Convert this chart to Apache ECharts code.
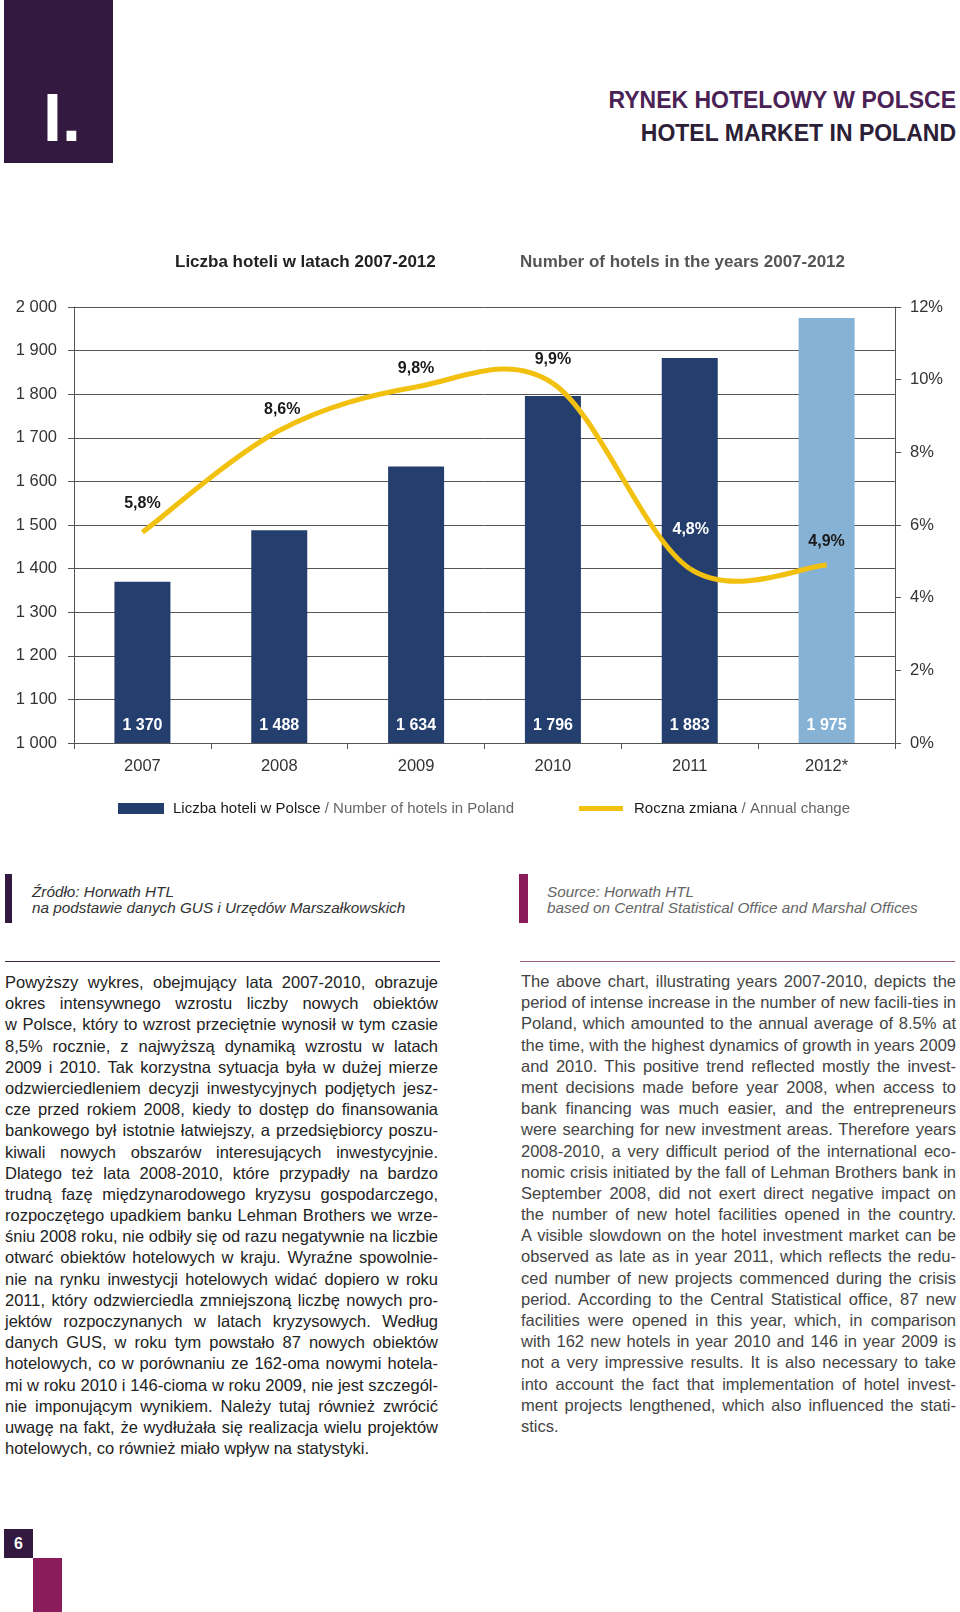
<!DOCTYPE html>
<html>
<head>
<meta charset="utf-8">
<script src="https://cdn.jsdelivr.net/npm/echarts@6/dist/echarts.min.js"></script>
<style>
html,body{margin:0;padding:0;background:#fff;}
body{width:960px;height:1612px;position:relative;overflow:hidden;font-family:"Liberation Sans",Arial,sans-serif;}
.abs{position:absolute;}
.col{position:absolute;font-size:16.5px;}
.ln{height:21.2px;line-height:21.2px;white-space:pre;}
.src{position:absolute;font-style:italic;font-size:15.3px;line-height:16px;white-space:nowrap;}
</style>
</head>
<body>
<div class="abs" style="left:4px;top:0;width:109px;height:163px;background:#33183f;"></div>
<div class="abs" style="left:43px;top:83px;font-size:68px;line-height:68px;font-weight:bold;color:#fff;">I.</div>
<div class="abs" style="right:4px;top:87px;font-size:23px;line-height:26px;font-weight:bold;color:#4a2256;white-space:nowrap;">RYNEK HOTELOWY W POLSCE</div>
<div class="abs" style="right:4px;top:120px;font-size:23px;line-height:26px;font-weight:bold;color:#2b2035;white-space:nowrap;">HOTEL MARKET IN POLAND</div>

<div id="chart" class="abs" style="left:0;top:230px;width:960px;height:600px;"></div>

<div class="abs" style="left:5px;top:874px;width:7px;height:49px;background:#33183f;"></div>
<div class="src" style="left:32px;top:884px;color:#333;">Źródło: Horwath HTL<br>na podstawie danych GUS i Urzędów Marszałkowskich</div>
<div class="abs" style="left:519px;top:874px;width:9px;height:49px;background:#8b1c5b;"></div>
<div class="src" style="left:547px;top:884px;color:#666;">Source: Horwath HTL<br>based on Central Statistical Office and Marshal Offices</div>

<div class="abs" style="left:5px;top:961px;width:435px;height:1px;background:#3a2a42;"></div>
<div class="abs" style="left:520px;top:961px;width:435px;height:1px;background:#9a5a80;"></div>

<div id="colL" class="col" style="left:5px;top:972px;width:433px;color:#222;"></div>
<div id="colR" class="col" style="left:521px;top:971px;width:435px;color:#444;"></div>

<div class="abs" style="left:4px;top:1529px;width:29px;height:29px;background:#33183f;color:#fff;font-weight:bold;font-size:16px;line-height:29px;text-align:center;">6</div>
<div class="abs" style="left:33px;top:1558px;width:29px;height:54px;background:#8b1c5b;"></div>

<script>
// ---- data ----
const years = ['2007', '2008', '2009', '2010', '2011', '2012*'];
const hotelCounts = [1370, 1488, 1634, 1796, 1883, 1975];
const annualChange = [5.8, 8.6, 9.8, 9.9, 4.8, 4.9];
const countAxisRange = [1000, 2000, 100];
const changeAxisRange = [0, 12, 2];
const projectedIndex = 5;

const seriesNames = ['Liczba hoteli w Polsce / Number of hotels in Poland', 'Roczna zmiana / Annual change'];

// ---- styles ----
const FONT = '"Liberation Sans", Arial, sans-serif';
const DARK = '#243f6e', LIGHT = '#86b2d6', YELLOW = '#f2c10f', AXIS = '#555';
const changeLabelOffsets = [[0, -29], [3, -21], [0, -18], [0, -24], [1, -39], [0, -23]];
const changeLabelColors = ['#1a1a1a', '#1a1a1a', '#1a1a1a', '#1a1a1a', '#ffffff', '#1a1a1a'];

function thousands(v) { return String(v).replace(/\B(?=(\d{3})+(?!\d))/g, ' '); }
function pct(v) { return v.toFixed(1).replace('.', ',') + '%'; }

function renderChange(params, api) {
  const i = params.dataIndex;
  const n = annualChange.length;
  const pt = k => api.coord([k, annualChange[k]]);
  const p1 = pt(i);
  const children = [];
  if (i < n - 1) {
    const p0 = pt(Math.max(i - 1, 0)), p2 = pt(i + 1), p3 = pt(Math.min(i + 2, n - 1));
    const t = 1 / 6;
    children.push({
      type: 'bezierCurve',
      shape: {
        x1: p1[0], y1: p1[1], x2: p2[0], y2: p2[1],
        cpx1: p1[0] + (p2[0] - p0[0]) * t, cpy1: p1[1] + (p2[1] - p0[1]) * t,
        cpx2: p2[0] - (p3[0] - p1[0]) * t, cpy2: p2[1] - (p3[1] - p1[1]) * t
      },
      style: { stroke: YELLOW, lineWidth: 5, fill: null, lineCap: 'butt' }
    });
  }
  children.push({
    type: 'text',
    x: p1[0] + changeLabelOffsets[i][0],
    y: p1[1] + changeLabelOffsets[i][1],
    z2: 10,
    style: {
      text: pct(annualChange[i]), fill: changeLabelColors[i],
      font: 'bold 16px ' + FONT, align: 'center', verticalAlign: 'middle'
    }
  });
  return { type: 'group', children: children };
}

const chart = echarts.init(document.getElementById('chart'), null, { renderer: 'canvas' });
chart.setOption({
  animation: false,
  textStyle: { fontFamily: FONT },
  title: [
    { text: 'Liczba hoteli w latach 2007-2012', left: 175, top: 24, padding: 0,
      textStyle: { fontSize: 17, fontWeight: 'bold', color: '#222', fontFamily: FONT } },
    { text: 'Number of hotels in the years 2007-2012', left: 520, top: 24, padding: 0,
      textStyle: { fontSize: 17, fontWeight: 'bold', color: '#555', fontFamily: FONT } }
  ],
  legend: [
    { data: [seriesNames[0]], left: 118, top: 571, padding: 0, icon: 'rect', itemWidth: 46, itemHeight: 11,
      selectedMode: false,
      formatter: name => { const p = name.split(' / '); return '{pl|' + p[0] + ' }{en|/ ' + p[1] + '}'; },
      textStyle: { rich: {
        pl: { color: '#1a1a1a', fontSize: 15, fontFamily: FONT, padding: [0, 0, 0, 4], lineHeight: 18 },
        en: { color: '#666', fontSize: 15, fontFamily: FONT, lineHeight: 18 } } } },
    { data: [seriesNames[1]], left: 579, top: 571, padding: 0, icon: 'rect', itemWidth: 44, itemHeight: 5,
      selectedMode: false,
      formatter: name => { const p = name.split(' / '); return '{pl|' + p[0] + ' }{en|/ ' + p[1] + '}'; },
      textStyle: { rich: {
        pl: { color: '#1a1a1a', fontSize: 15, fontFamily: FONT, padding: [0, 0, 0, 6], lineHeight: 18 },
        en: { color: '#666', fontSize: 15, fontFamily: FONT, lineHeight: 18 } } } }
  ],
  grid: { left: 74, right: 65, top: 77, height: 436 },
  xAxis: {
    type: 'category', data: years, boundaryGap: true,
    axisLine: { show: true, lineStyle: { color: AXIS, width: 1 } },
    axisTick: { show: true, length: 6, inside: false, lineStyle: { color: AXIS } },
    axisLabel: { margin: 15, fontSize: 16.5, color: '#333', fontFamily: FONT },
    splitLine: { show: false }
  },
  yAxis: [
    { type: 'value', position: 'left', min: countAxisRange[0], max: countAxisRange[1], interval: countAxisRange[2],
      axisLine: { show: true, lineStyle: { color: AXIS } },
      axisTick: { show: true, length: 6, lineStyle: { color: AXIS } },
      axisLabel: { margin: 17, fontSize: 16.5, color: '#333', fontFamily: FONT, formatter: v => thousands(v) },
      splitLine: { show: true, lineStyle: { color: AXIS, width: 1 } } },
    { type: 'value', position: 'right', min: changeAxisRange[0], max: changeAxisRange[1], interval: changeAxisRange[2],
      axisLine: { show: true, lineStyle: { color: AXIS } },
      axisTick: { show: true, length: 6, lineStyle: { color: AXIS } },
      axisLabel: { margin: 15, fontSize: 16.5, color: '#333', fontFamily: FONT, formatter: '{value}%' },
      splitLine: { show: false } }
  ],
  series: [
    { name: seriesNames[0], type: 'bar', yAxisIndex: 0, barWidth: 56,
      itemStyle: { color: DARK },
      data: hotelCounts.map((v, i) => i === projectedIndex ? { value: v, itemStyle: { color: LIGHT } } : v),
      label: { show: true, position: 'insideBottom', distance: 9, color: '#fff', fontWeight: 'bold', fontSize: 16,
        fontFamily: FONT, formatter: p => thousands(p.value) } },
    { name: seriesNames[1], type: 'custom', yAxisIndex: 1, xAxisIndex: 0,
      itemStyle: { color: YELLOW },
      data: annualChange.map((v, i) => [i, v]),
      encode: { x: 0, y: 1 },
      renderItem: renderChange, z: 3 }
  ]
});

// ---- body text ----
const leftLines = [
'Powyższy wykres, obejmujący lata 2007-2010, obrazuje',
'okres intensywnego wzrostu liczby nowych obiektów',
'w Polsce, który to wzrost przeciętnie wynosił w tym czasie',
'8,5% rocznie, z najwyższą dynamiką wzrostu w latach',
'2009 i 2010. Tak korzystna sytuacja była w dużej mierze',
'odzwierciedleniem decyzji inwestycyjnych podjętych jesz-',
'cze przed rokiem 2008, kiedy to dostęp do finansowania',
'bankowego był istotnie łatwiejszy, a przedsiębiorcy poszu-',
'kiwali nowych obszarów interesujących inwestycyjnie.',
'Dlatego też lata 2008-2010, które przypadły na bardzo',
'trudną fazę międzynarodowego kryzysu gospodarczego,',
'rozpoczętego upadkiem banku Lehman Brothers we wrze-',
'śniu 2008 roku, nie odbiły się od razu negatywnie na liczbie',
'otwarć obiektów hotelowych w kraju. Wyraźne spowolnie-',
'nie na rynku inwestycji hotelowych widać dopiero w roku',
'2011, który odzwierciedla zmniejszoną liczbę nowych pro-',
'jektów rozpoczynanych w latach kryzysowych. Według',
'danych GUS, w roku tym powstało 87 nowych obiektów',
'hotelowych, co w porównaniu ze 162-oma nowymi hotela-',
'mi w roku 2010 i 146-cioma w roku 2009, nie jest szczegól-',
'nie imponującym wynikiem. Należy tutaj również zwrócić',
'uwagę na fakt, że wydłużała się realizacja wielu projektów',
'hotelowych, co również miało wpływ na statystyki.'
];
const rightLines = [
'The above chart, illustrating years 2007-2010, depicts the',
'period of intense increase in the number of new facili-ties in',
'Poland, which amounted to the annual average of 8.5% at',
'the time, with the highest dynamics of growth in years 2009',
'and 2010. This positive trend reflected mostly the invest-',
'ment decisions made before year 2008, when access to',
'bank financing was much easier, and the entrepreneurs',
'were searching for new investment areas. Therefore years',
'2008-2010, a very difficult period of the international eco-',
'nomic crisis initiated by the fall of Lehman Brothers bank in',
'September 2008, did not exert direct negative impact on',
'the number of new hotel facilities opened in the country.',
'A visible slowdown on the hotel investment market can be',
'observed as late as in year 2011, which reflects the redu-',
'ced number of new projects commenced during the crisis',
'period. According to the Central Statistical office, 87 new',
'facilities were opened in this year, which, in comparison',
'with 162 new hotels in year 2010 and 146 in year 2009 is',
'not a very impressive results. It is also necessary to take',
'into account the fact that implementation of hotel invest-',
'ment projects lengthened, which also influenced the stati-',
'stics.'
];
function layoutColumn(id, lines, width) {
  const col = document.getElementById(id);
  col.innerHTML = '';
  lines.forEach((t, idx) => {
    const d = document.createElement('div');
    d.className = 'ln';
    const s = document.createElement('span');
    s.textContent = t;
    d.appendChild(s);
    col.appendChild(d);
    const w = s.getBoundingClientRect().width;
    const extra = width - w;
    const spaces = (t.match(/ /g) || []).length;
    if (extra < 0) {
      s.style.letterSpacing = (extra / (t.length - 1)) + 'px';
    } else if (idx < lines.length - 1 && spaces > 0) {
      s.style.wordSpacing = (extra / spaces) + 'px';
    }
  });
}
function layoutAll() {
  layoutColumn('colL', leftLines, 433);
  layoutColumn('colR', rightLines, 435);
}
layoutAll();
if (document.fonts && document.fonts.ready) document.fonts.ready.then(layoutAll);
</script>
</body>
</html>
